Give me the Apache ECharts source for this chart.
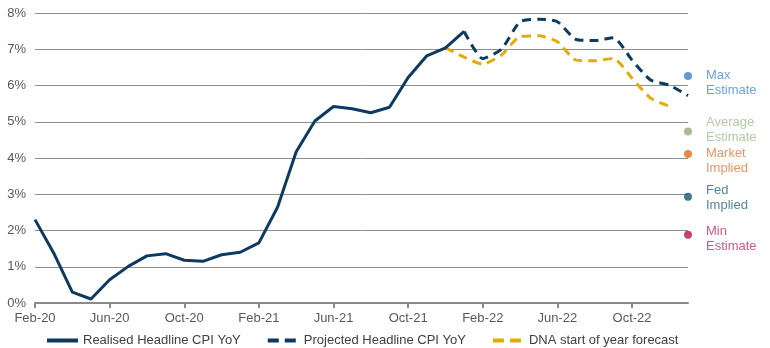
<!DOCTYPE html>
<html>
<head>
<meta charset="utf-8">
<script src="https://cdn.jsdelivr.net/npm/echarts@6/dist/echarts.min.js"></script>
<style>html,body{margin:0;padding:0;background:#fff}#c{width:770px;height:348px}</style>
</head>
<body>
<div id="c"></div>
<script>
const categories = ['Feb-20','Mar-20','Apr-20','May-20','Jun-20','Jul-20','Aug-20','Sep-20','Oct-20','Nov-20','Dec-20','Jan-21',
  'Feb-21','Mar-21','Apr-21','May-21','Jun-21','Jul-21','Aug-21','Sep-21','Oct-21','Nov-21','Dec-21','Jan-22',
  'Feb-22','Mar-22','Apr-22','May-22','Jun-22','Jul-22','Aug-22','Sep-22','Oct-22','Nov-22','Dec-22','Jan-23'];
// Realised: Feb-20 .. Jan-22
const realised = [2.30,1.38,0.30,0.11,0.64,1.01,1.30,1.36,1.18,1.15,1.33,1.40,1.66,2.64,4.17,5.02,5.42,5.36,5.25,5.40,6.22,6.82,7.04,7.49];
// Projected: Jan-22 .. Jan-23
const projected = [7.49,6.74,7.00,7.76,7.83,7.76,7.27,7.24,7.32,6.70,6.15,6.01,5.72];
// DNA start of year forecast: Dec-21 .. Dec-22
const dnaForecast = [7.04,6.78,6.59,6.84,7.35,7.37,7.21,6.70,6.68,6.75,6.20,5.65,5.43];
// End-point estimates (Jan-23)
const estimateNames = ['Max\nEstimate','Average\nEstimate','Market\nImplied','Fed\nImplied','Min\nEstimate'];
const estimateValues = [6.26,4.73,4.11,2.93,1.88];
const yTicks = [0,1,2,3,4,5,6,7,8];

const projStart = categories.indexOf('Jan-22');
const dnaStart = categories.indexOf('Dec-21');
function pad(arr, start){
  const out = new Array(categories.length).fill(null);
  arr.forEach((v,i)=>{ out[start+i] = v; });
  return out;
}
const navy = '#0d3a60';
const gold = '#e3ac0c';
const dotColors = ['#3f7ec6','#90ab7e','#e06c1c','#0f5a74','#b3164b'];
const textColors = ['#4d89cc','#a3bb8f','#e8783a','#2a6783','#c0305e'];
const labelOffsets = [6.5,-2,7,1.5,3.7];

const chart = echarts.init(document.getElementById('c'), null, {renderer:'canvas'});
const font = 'Liberation Sans, Arial, sans-serif';
const estSeries = estimateNames.map((n,i)=>({
  name: n,
  type: 'scatter',
  symbol: 'circle',
  symbolSize: 8,
  itemStyle: {color: dotColors[i]},
  data: [[categories[categories.length-1], estimateValues[i]]],
  label: {
    show: true, position: 'right', distance: 14,
    formatter: n, color: textColors[i], fontSize: 13, lineHeight: 15,
    fontFamily: font, align: 'left', offset: [0, labelOffsets[i]]
  },
  z: 5
}));

chart.setOption({
  animation: false,
  textStyle: {fontFamily: font},
  grid: {left: 35, right: 82, top: 13, bottom: 45, containLabel: false},
  legend: {
    data: [
      {name: 'Realised Headline CPI YoY', lineStyle: {width: 4, type: 'solid'}},
      {name: 'Projected Headline CPI YoY', lineStyle: {width: 4, type: [11,6]}},
      {name: 'DNA start of year forecast', lineStyle: {width: 4, type: [11,6]}}
    ],
    left: 40, top: 329, itemWidth: 31, itemHeight: 10, itemGap: 25,
    itemStyle: {opacity: 0},
    textStyle: {color: '#404040', fontSize: 13, fontFamily: font}
  },
  xAxis: {
    type: 'category', data: categories, boundaryGap: false,
    axisLine: {lineStyle: {color: '#8a8a8a', width: 2}},
    axisTick: {show: true, interval: 3, length: 5, lineStyle: {color: '#8a8a8a', width: 2}},
    axisLabel: {interval: 3, color: '#595959', fontSize: 13, margin: 9, fontFamily: font},
    splitLine: {show: false}
  },
  yAxis: {
    type: 'value', min: yTicks[0], max: yTicks[yTicks.length-1], interval: 1,
    axisLine: {show: false}, axisTick: {show: false},
    axisLabel: {formatter: '{value}%', color: '#595959', fontSize: 13, margin: 9, fontFamily: font},
    splitLine: {lineStyle: {color: '#8f8f8f', width: 1}}
  },
  series: [
    {name: 'Realised Headline CPI YoY', type: 'line', data: pad(realised,0), symbol: 'none',
     lineStyle: {color: navy, width: 3}, itemStyle: {color: navy}, z: 4},
    {name: 'Projected Headline CPI YoY', type: 'line', data: pad(projected,projStart), symbol: 'none', smooth: 0.2,
     lineStyle: {color: navy, width: 3, type: [9,6]}, itemStyle: {color: navy}, z: 4},
    {name: 'DNA start of year forecast', type: 'line', data: pad(dnaForecast,dnaStart), symbol: 'none', smooth: 0.2,
     lineStyle: {color: gold, width: 3, type: [9,6]}, itemStyle: {color: gold}, z: 3}
  ].concat(estSeries)
});
</script>
</body>
</html>
